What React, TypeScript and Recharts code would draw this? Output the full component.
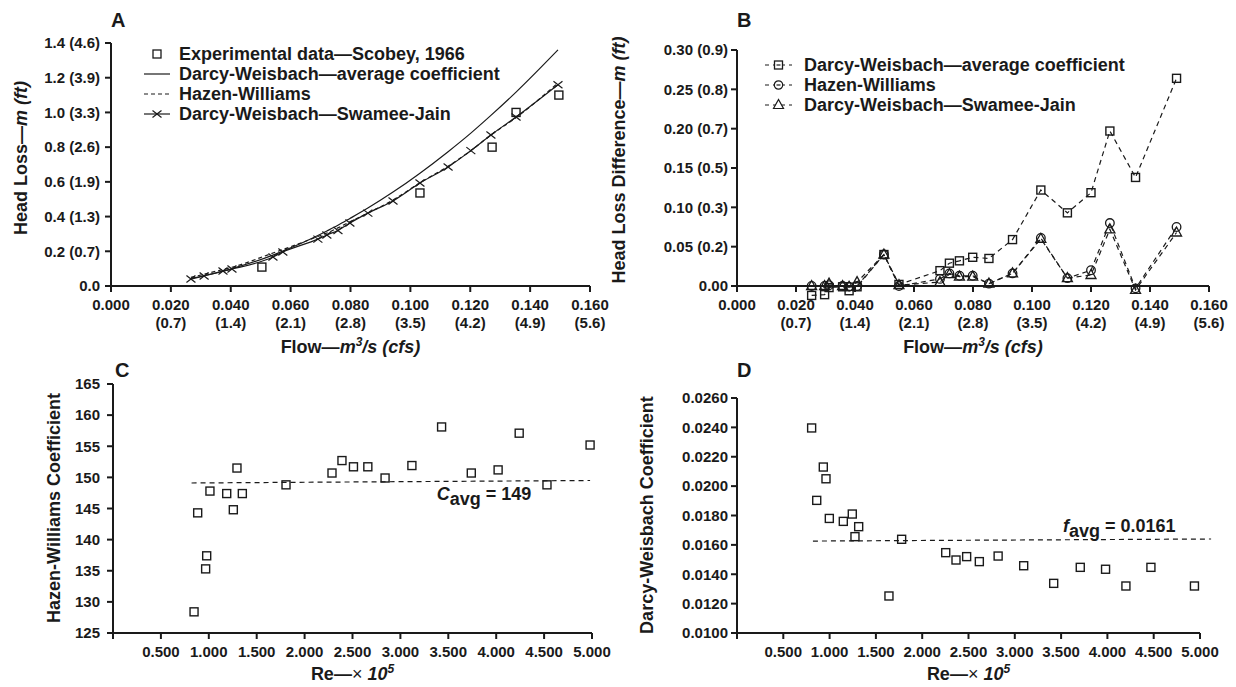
import React from "react";
import {
  ComposedChart,
  Line,
  Scatter,
  XAxis,
  YAxis,
  ReferenceLine,
  ReferenceDot,
  Legend,
} from "recharts";

const FONT = "'Liberation Sans', Arial, Helvetica, sans-serif";
const INK = "#1a1a1a";

// ── Panel A: head loss vs flow ───────────────────────────────────────────────
const flowA = [0.0267, 0.0311, 0.0374, 0.0404, 0.0541, 0.0574, 0.0691, 0.0721, 0.0758, 0.0798, 0.0858, 0.0942, 0.1032, 0.1126, 0.1202, 0.1269, 0.1353, 0.1493];
const dwAverageA = [0.044, 0.059, 0.085, 0.1, 0.178, 0.201, 0.291, 0.317, 0.35, 0.389, 0.449, 0.541, 0.65, 0.774, 0.881, 0.983, 1.117, 1.36];
const hazenA = [0.05, 0.068, 0.095, 0.108, 0.19, 0.21, 0.285, 0.305, 0.335, 0.37, 0.42, 0.495, 0.595, 0.69, 0.78, 0.87, 0.97, 1.17];
const swameeA = [0.04, 0.058, 0.086, 0.098, 0.167, 0.196, 0.27, 0.294, 0.32, 0.363, 0.42, 0.49, 0.593, 0.686, 0.78, 0.87, 0.974, 1.16];
const expFlowA = [0.0504, 0.1032, 0.1273, 0.1353, 0.1496];
const expLossA = [0.109, 0.536, 0.8, 1.0, 1.1];

const flowTicks = [0, 0.02, 0.04, 0.06, 0.08, 0.1, 0.12, 0.14, 0.16];
const flowLabels = ["0.000", "0.020", "0.040", "0.060", "0.080", "0.100", "0.120", "0.140", "0.160"];
const cfsLabels = ["", "(0.7)", "(1.4)", "(2.1)", "(2.8)", "(3.5)", "(4.2)", "(4.9)", "(5.6)"];
const lossTicksA = [0, 0.2, 0.4, 0.6, 0.8, 1.0, 1.2, 1.4];
const lossLabelsA = ["0.0", "0.2 (0.7)", "0.4 (1.3)", "0.6 (1.9)", "0.8 (2.6)", "1.0 (3.3)", "1.2 (3.9)", "1.4 (4.6)"];

// ── Panel B: head loss difference ────────────────────────────────────────────
const flowB = [0.0253, 0.0297, 0.0312, 0.0358, 0.038, 0.0407, 0.0498, 0.0549, 0.0688, 0.072, 0.0754, 0.0799, 0.0854, 0.0934, 0.103, 0.112, 0.12, 0.1264, 0.1351, 0.149];
const dwDiffB = [-0.012, -0.011, -0.002, -0.001, -0.006, -0.001, 0.04, 0.002, 0.0195, 0.029, 0.032, 0.0365, 0.035, 0.059, 0.122, 0.093, 0.1186, 0.197, 0.138, 0.264];
const hwDiffB = [0.0, 0.0, 0.001, 0.0, -0.001, 0.0, 0.04, 0.0, 0.009, 0.016, 0.013, 0.013, 0.003, 0.016, 0.061, 0.01, 0.02, 0.08, -0.003, 0.075];
const sjDiffB = [0.0, 0.0, 0.003, 0.0, -0.001, 0.005, 0.04, 0.001, 0.005, 0.015, 0.012, 0.012, 0.003, 0.016, 0.06, 0.01, 0.014, 0.072, -0.005, 0.068];
const diffTicksB = [0, 0.05, 0.1, 0.15, 0.2, 0.25, 0.3];
const diffLabelsB = ["0.00", "0.05 (0.2)", "0.10 (0.3)", "0.15 (0.5)", "0.20 (0.7)", "0.25 (0.8)", "0.30 (0.9)"];
const B_PAD = 0.016; // room under zero for the negative points

// ── Panel C: Hazen-Williams coefficient vs Re ────────────────────────────────
const reC = [0.846, 0.884, 0.967, 0.978, 1.012, 1.187, 1.256, 1.294, 1.35, 1.806, 2.286, 2.39, 2.51, 2.66, 2.84, 3.12, 3.43, 3.74, 4.02, 4.24, 4.53, 4.98];
const hwC = [128.4, 144.3, 135.3, 137.4, 147.8, 147.4, 144.8, 151.5, 147.4, 148.8, 150.7, 152.7, 151.7, 151.7, 149.9, 151.9, 158.1, 150.7, 151.2, 157.1, 148.8, 155.2];
const cAvgX = [0.82, 4.98];
const cAvgY = [149.1, 149.5];
const hwTicksC = [125, 130, 135, 140, 145, 150, 155, 160, 165];

// ── Panel D: Darcy-Weisbach coefficient vs Re ────────────────────────────────
const reD = [0.806, 0.861, 0.932, 0.961, 0.997, 1.148, 1.245, 1.274, 1.314, 1.641, 1.778, 2.254, 2.365, 2.48, 2.617, 2.82, 3.096, 3.42, 3.707, 3.98, 4.2, 4.47, 4.94];
const dwD = [0.02396, 0.01903, 0.0213, 0.0205, 0.0178, 0.0176, 0.0181, 0.01656, 0.01724, 0.01252, 0.01638, 0.01547, 0.01497, 0.0152, 0.01486, 0.01524, 0.01458, 0.01338, 0.01447, 0.01434, 0.0132, 0.01447, 0.0132];
const fAvgX = [0.82, 5.12];
const fAvgY = [0.01626, 0.0164];
const dwTicksD = [0.01, 0.012, 0.014, 0.016, 0.018, 0.02, 0.022, 0.024, 0.026];

const reTicks = [0, 0.5, 1, 1.5, 2, 2.5, 3, 3.5, 4, 4.5, 5];
const reLabels = ["", "0.500", "1.000", "1.500", "2.000", "2.500", "3.000", "3.500", "4.000", "4.500", "5.000"];

const pts = (xs: number[], ys: number[]) => xs.map((x, i) => ({ x, y: ys[i] }));

// ── Markers ──────────────────────────────────────────────────────────────────

function SquareMark({ cx, cy, s = 8 }: { cx: number; cy: number; s?: number }) {
  if (cx == null || cy == null) return null;
  return <rect x={cx - s / 2} y={cy - s / 2} width={s} height={s} fill="none" stroke={INK} strokeWidth={1.4} />;
}

function CircleMark({ cx, cy }: { cx: number; cy: number }) {
  if (cx == null || cy == null) return null;
  return <circle cx={cx} cy={cy} r={4.3} fill="none" stroke={INK} strokeWidth={1.3} />;
}

function TriangleMark({ cx, cy }: { cx: number; cy: number }) {
  if (cx == null || cy == null) return null;
  return (
    <polygon
      points={`${cx},${cy - 5.5} ${cx - 5},${cy + 3.5} ${cx + 5},${cy + 3.5}`}
      fill="none"
      stroke={INK}
      strokeWidth={1.3}
    />
  );
}

function CrossMark({ cx, cy }: { cx: number; cy: number }) {
  if (cx == null || cy == null) return null;
  return (
    <g stroke={INK} strokeWidth={1.2}>
      <line x1={cx - 4.5} y1={cy - 3.5} x2={cx + 4.5} y2={cy + 3.5} />
      <line x1={cx - 4.5} y1={cy + 3.5} x2={cx + 4.5} y2={cy - 3.5} />
    </g>
  );
}

// ── Axis pieces ──────────────────────────────────────────────────────────────

const tickStyle = { fontSize: 15, fontWeight: 700, fill: INK, fontFamily: FONT };
const axisStroke = { stroke: INK, strokeWidth: 2 };

function XTick(props: any) {
  const { x, y, payload, ticks, labels, subLabels, shift = 0 } = props;
  const i = ticks.findIndex((t: number) => Math.abs(t - payload.value) < 1e-9);
  const y0 = y - shift;
  return (
    <g>
      <line x1={x} x2={x} y1={y0} y2={y0 + 6} stroke={INK} strokeWidth={2} />
      <text x={x} y={y0 + 24} textAnchor="middle" {...tickStyle}>
        {labels[i]}
      </text>
      {subLabels && (
        <text x={x} y={y0 + 42} textAnchor="middle" {...tickStyle}>
          {subLabels[i]}
        </text>
      )}
    </g>
  );
}

const titleStyle = { fontSize: 18, fontWeight: 700, fill: INK, fontFamily: FONT };

function yTitle(letter: string, title: React.ReactNode, dx: number, dy: number, letterUp: number, letterDx = 0) {
  return (p: any) => {
    const vb = p.viewBox;
    const cx = vb.x + dx;
    const cy = vb.y + dy;
    return (
      <g>
        <text x={vb.x + vb.width + letterDx} y={vb.y - letterUp} fontSize={20} fontWeight={700} fill={INK} fontFamily={FONT}>
          {letter}
        </text>
        <text
          x={cx}
          y={cy}
          transform={`rotate(-90 ${cx} ${cy})`}
          textAnchor="middle"
          dominantBaseline="central"
          {...titleStyle}
        >
          {title}
        </text>
      </g>
    );
  };
}

function flowTitle(down: number) {
  return (p: any) => {
    const vb = p.viewBox;
    return (
      <text x={vb.x + vb.width / 2} y={vb.y + down} textAnchor="middle" {...titleStyle}>
        Flow—<tspan fontStyle="italic">m</tspan>
        <tspan dy={-7} fontSize={12} fontStyle="italic">3</tspan>
        <tspan dy={7} fontStyle="italic">/s (cfs)</tspan>
      </text>
    );
  };
}

function reTitle(p: any) {
  const vb = p.viewBox;
  return (
    <text x={vb.x + vb.width / 2} y={vb.y + 47} textAnchor="middle" {...titleStyle}>
      Re—<tspan fontWeight={400}>×</tspan>
      <tspan fontStyle="italic"> 10</tspan>
      <tspan dy={-7} fontSize={12} fontStyle="italic">5</tspan>
    </text>
  );
}

function avgLabel(sym: string, value: string) {
  return (p: any) => {
    const vb = p.viewBox;
    return (
      <text x={vb.x} y={vb.y} {...titleStyle}>
        <tspan fontStyle="italic">{sym}</tspan>
        <tspan dy={5}>avg</tspan>
        <tspan dy={-5}>{` = ${value}`}</tspan>
      </text>
    );
  };
}

// ── Legends ──────────────────────────────────────────────────────────────────

function LegendIcon({ w, dash, mark }: { w: number; dash?: string; mark?: string }) {
  const c = w / 2;
  return (
    <svg width={w} height={20} style={{ flexShrink: 0, overflow: "visible" }}>
      {dash !== "none" && (
        <line x1={0} x2={w} y1={10} y2={10} stroke={INK} strokeWidth={1.2} strokeDasharray={dash} />
      )}
      {mark === "square" && <rect x={c - 4} y={6} width={8} height={8} fill="#fff" stroke={INK} strokeWidth={1.3} />}
      {mark === "circle" && <circle cx={c} cy={10} r={4.2} fill="#fff" stroke={INK} strokeWidth={1.2} />}
      {mark === "triangle" && (
        <polygon points={`${c},4.5 ${c - 5},13.5 ${c + 5},13.5`} fill="#fff" stroke={INK} strokeWidth={1.2} />
      )}
      {mark === "cross" && <CrossMark cx={c} cy={10} />}
      {mark === "square" && dash !== "none" && (
        <line x1={c - 2} x2={c + 2} y1={10} y2={10} stroke={INK} strokeWidth={1.2} />
      )}
      {mark === "circle" && <line x1={c - 2} x2={c + 2} y1={10} y2={10} stroke={INK} strokeWidth={1.2} />}
    </svg>
  );
}

function LegendList({ items, iconW, gap }: { items: { label: string; dash?: string; mark?: string }[]; iconW: number; gap: number }) {
  return (
    <div style={{ fontFamily: FONT, fontWeight: 700, fontSize: 18, color: INK, whiteSpace: "nowrap" }}>
      {items.map(it => (
        <div key={it.label} style={{ display: "flex", alignItems: "center", height: 20 }}>
          <LegendIcon w={iconW} dash={it.dash} mark={it.mark} />
          <span style={{ marginLeft: gap }}>{it.label}</span>
        </div>
      ))}
    </div>
  );
}

const legendA = [
  { label: "Experimental data—Scobey, 1966", dash: "none", mark: "square" },
  { label: "Darcy-Weisbach—average coefficient" },
  { label: "Hazen-Williams", dash: "4 3" },
  { label: "Darcy-Weisbach—Swamee-Jain", mark: "cross" },
];

const legendB = [
  { label: "Darcy-Weisbach—average coefficient", dash: "4 4", mark: "square" },
  { label: "Hazen-Williams", dash: "4 4", mark: "circle" },
  { label: "Darcy-Weisbach—Swamee-Jain", dash: "4 4", mark: "triangle" },
];

// ── Panels ───────────────────────────────────────────────────────────────────

function PanelA() {
  return (
    <ComposedChart width={620} height={362} margin={{ top: 43, right: 30, bottom: 0, left: 0 }}>
      <XAxis
        type="number"
        dataKey="x"
        domain={[0, 0.16]}
        ticks={flowTicks}
        interval={0}
        height={76}
        tickSize={0}
        tickMargin={0}
        tickLine={false}
        axisLine={axisStroke}
        tick={(p: any) => <XTick {...p} ticks={flowTicks} labels={flowLabels} subLabels={cfsLabels} />}
        label={flowTitle(67)}
      />
      <YAxis
        type="number"
        domain={[0, 1.4]}
        ticks={lossTicksA}
        interval={0}
        width={111}
        tickSize={6}
        tickMargin={5}
        tick={tickStyle}
        tickLine={axisStroke}
        axisLine={axisStroke}
        tickFormatter={(v: number) => lossLabelsA[lossTicksA.findIndex(t => Math.abs(t - v) < 1e-9)]}
        label={yTitle(
          "A",
          <>
            Head Loss—<tspan fontStyle="italic">m (ft)</tspan>
          </>,
          21,
          115,
          16
        )}
      />
      <Legend
        layout="vertical"
        align="center"
        verticalAlign="middle"
        wrapperStyle={{ left: 144, top: 44, width: 440, height: 84 }}
        content={() => <LegendList items={legendA} iconW={26} gap={9} />}
      />
      <Line data={pts(flowA, dwAverageA)} dataKey="y" type="monotone" stroke={INK} strokeWidth={1.2} dot={false} activeDot={false} isAnimationActive={false} />
      <Line data={pts(flowA, hazenA)} dataKey="y" type="monotone" stroke={INK} strokeWidth={1.2} strokeDasharray="4 3" dot={false} activeDot={false} isAnimationActive={false} />
      <Line
        data={pts(flowA, swameeA)}
        dataKey="y"
        type="monotone"
        stroke={INK}
        strokeWidth={1.2}
        dot={(p: any) => <CrossMark key={p.index} cx={p.cx} cy={p.cy} />}
        activeDot={false}
        isAnimationActive={false}
      />
      <Scatter
        data={pts(expFlowA, expLossA)}
        dataKey="y"
        shape={(p: any) => <SquareMark cx={p.cx} cy={p.cy} />}
        isAnimationActive={false}
      />
    </ComposedChart>
  );
}

const B_TOP = 50;
const B_PLOT_H = 236 * ((0.3 + B_PAD) / 0.3);
const B_SHIFT = 236 * (B_PAD / 0.3);

function PanelB() {
  const H = 362;
  return (
    <ComposedChart width={640} height={H} margin={{ top: B_TOP, right: 27, bottom: 0, left: 0 }}>
      <XAxis
        type="number"
        dataKey="x"
        domain={[0, 0.16]}
        ticks={flowTicks}
        interval={0}
        height={H - B_TOP - B_PLOT_H}
        tickSize={0}
        tickMargin={0}
        tickLine={false}
        axisLine={false}
        tick={(p: any) => <XTick {...p} ticks={flowTicks} labels={flowLabels} subLabels={cfsLabels} shift={B_SHIFT} />}
        label={flowTitle(67 - B_SHIFT)}
      />
      <YAxis
        type="number"
        domain={[-B_PAD, 0.3]}
        ticks={diffTicksB}
        interval={0}
        width={141}
        tickSize={6}
        tickMargin={3}
        tick={tickStyle}
        tickLine={axisStroke}
        axisLine={false}
        tickFormatter={(v: number) => diffLabelsB[diffTicksB.findIndex(t => Math.abs(t - v) < 1e-9)]}
        label={yTitle(
          "B",
          <>
            Head Loss Difference—<tspan fontStyle="italic">m (ft)</tspan>
          </>,
          23,
          110,
          23
        )}
      />
      <ReferenceLine y={0} stroke={INK} strokeWidth={2} />
      <ReferenceLine segment={[{ x: 0, y: 0 }, { x: 0, y: 0.3 }]} stroke={INK} strokeWidth={2} />
      <Legend
        layout="vertical"
        align="center"
        verticalAlign="middle"
        wrapperStyle={{ left: 169, top: 55, width: 440, height: 62 }}
        content={() => <LegendList items={legendB} iconW={27} gap={12} />}
      />
      <Line
        data={pts(flowB, dwDiffB)}
        dataKey="y"
        type="linear"
        stroke={INK}
        strokeWidth={1.2}
        strokeDasharray="5 4"
        dot={(p: any) => <SquareMark key={p.index} cx={p.cx} cy={p.cy} />}
        activeDot={false}
        isAnimationActive={false}
      />
      <Line
        data={pts(flowB, hwDiffB)}
        dataKey="y"
        type="linear"
        stroke={INK}
        strokeWidth={1.2}
        strokeDasharray="5 4"
        dot={(p: any) => <CircleMark key={p.index} cx={p.cx} cy={p.cy} />}
        activeDot={false}
        isAnimationActive={false}
      />
      <Line
        data={pts(flowB, sjDiffB)}
        dataKey="y"
        type="linear"
        stroke={INK}
        strokeWidth={1.2}
        strokeDasharray="5 4"
        dot={(p: any) => <TriangleMark key={p.index} cx={p.cx} cy={p.cy} />}
        activeDot={false}
        isAnimationActive={false}
      />
    </ComposedChart>
  );
}

function PanelC() {
  return (
    <ComposedChart width={620} height={357} margin={{ top: 54, right: 28, bottom: 0, left: 0 }}>
      <XAxis
        type="number"
        dataKey="x"
        domain={[0, 5]}
        ticks={reTicks}
        interval={0}
        height={54}
        tickSize={0}
        tickMargin={0}
        tickLine={false}
        axisLine={axisStroke}
        tick={(p: any) => <XTick {...p} ticks={reTicks} labels={reLabels} />}
        label={reTitle}
      />
      <YAxis
        type="number"
        domain={[125, 165]}
        ticks={hwTicksC}
        interval={0}
        width={113}
        tickSize={6}
        tickMargin={7}
        tick={tickStyle}
        tickLine={axisStroke}
        axisLine={axisStroke}
        label={yTitle("C", "Hazen-Williams Coefficient", 54, 124, 7, 2)}
      />
      <ReferenceLine
        segment={[{ x: cAvgX[0], y: cAvgY[0] }, { x: cAvgX[1], y: cAvgY[1] }]}
        stroke={INK}
        strokeWidth={1.2}
        strokeDasharray="5 4"
      />
      <ReferenceDot x={3.38} y={146.4} r={0} stroke="none" label={avgLabel("C", "149")} />
      <Scatter data={pts(reC, hwC)} dataKey="y" shape={(p: any) => <SquareMark cx={p.cx} cy={p.cy} />} isAnimationActive={false} />
    </ComposedChart>
  );
}

function PanelD() {
  return (
    <ComposedChart width={640} height={357} margin={{ top: 68, right: 36, bottom: 0, left: 0 }}>
      <XAxis
        type="number"
        dataKey="x"
        domain={[0, 5]}
        ticks={reTicks}
        interval={0}
        height={54}
        tickSize={0}
        tickMargin={0}
        tickLine={false}
        axisLine={axisStroke}
        allowDataOverflow
        tick={(p: any) => <XTick {...p} ticks={reTicks} labels={reLabels} />}
        label={reTitle}
      />
      <YAxis
        type="number"
        domain={[0.01, 0.026]}
        ticks={dwTicksD}
        interval={0}
        width={141}
        tickSize={6}
        tickMargin={3}
        tick={tickStyle}
        tickLine={axisStroke}
        axisLine={axisStroke}
        tickFormatter={(v: number) => v.toFixed(4)}
        label={yTitle("D", "Darcy-Weisbach Coefficient", 51, 117, 21)}
      />
      <ReferenceLine
        segment={[{ x: fAvgX[0], y: fAvgY[0] }, { x: fAvgX[1], y: fAvgY[1] }]}
        ifOverflow="visible"
        stroke={INK}
        strokeWidth={1.2}
        strokeDasharray="5 4"
      />
      <ReferenceDot x={3.52} y={0.01688} r={0} stroke="none" label={avgLabel("f", "0.0161")} />
      <Scatter data={pts(reD, dwD)} dataKey="y" shape={(p: any) => <SquareMark cx={p.cx} cy={p.cy} />} isAnimationActive={false} />
    </ComposedChart>
  );
}

export default function App() {
  return (
    <div style={{ position: "absolute", left: 0, top: 0, width: 1236, height: 687, background: "#fff", overflow: "hidden" }}>
      <div style={{ position: "absolute", left: 0, top: 0 }}>
        <PanelA />
      </div>
      <div style={{ position: "absolute", left: 596, top: 0 }}>
        <PanelB />
      </div>
      <div style={{ position: "absolute", left: 0, top: 330 }}>
        <PanelC />
      </div>
      <div style={{ position: "absolute", left: 596, top: 330 }}>
        <PanelD />
      </div>
    </div>
  );
}
